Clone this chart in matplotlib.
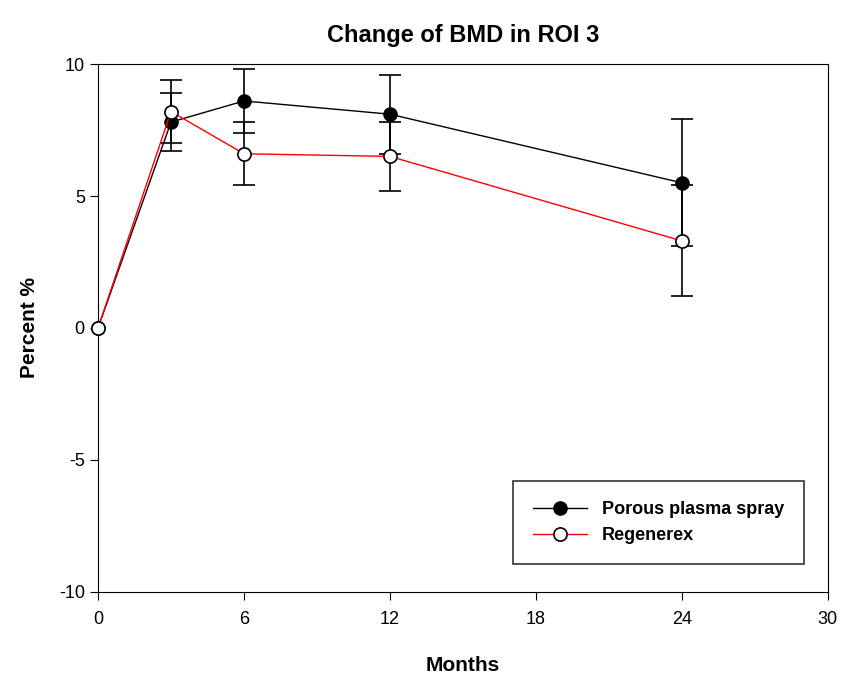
import matplotlib
matplotlib.use("Agg")
import matplotlib.pyplot as plt

plt.rcParams['font.family'] = ['Liberation Sans', 'DejaVu Sans']
plt.rcParams['axes.unicode_minus'] = False

months = [0, 3, 6, 12, 24]
porous = [0, 7.8, 8.6, 8.1, 5.5]
porous_err = [float('nan'), 1.1, 1.2, 1.5, 2.4]
regen = [0, 8.2, 6.6, 6.5, 3.3]
regen_err = [float('nan'), 1.2, 1.2, 1.3, 2.1]

fig = plt.figure(figsize=(8.56, 6.76), dpi=100)
ax = fig.add_axes([0.1145, 0.1243, 0.8525, 0.7810])

l1 = ax.errorbar(months, porous, yerr=porous_err, color='black', ecolor='black',
                 elinewidth=1.2, capsize=8, capthick=1.2, lw=1, marker='o', ms=9.5,
                 mfc='black', mec='black', label='Porous plasma spray', zorder=3)
l2 = ax.errorbar(months, regen, yerr=regen_err, color='red', ecolor='black',
                 elinewidth=1.2, capsize=8, capthick=1.2, lw=1, marker='o', ms=9.5,
                 mfc='white', mec='black', mew=1.2, label='Regenerex', zorder=4)
for c in (l1, l2):
    c[0].set_clip_on(False)

ax.set_xlim(0, 30)
ax.set_ylim(-10, 10)
ax.set_xticks([0, 6, 12, 18, 24, 30])
ax.set_yticks([-10, -5, 0, 5, 10])
ax.tick_params(direction='out', length=6, labelsize=13)
ax.tick_params(axis='x', pad=8)
ax.set_xlabel('Months', fontsize=15, fontweight='bold', labelpad=20)
ax.set_ylabel('Percent %', fontsize=15, fontweight='bold', labelpad=14)
ax.set_title('Change of BMD in ROI 3', fontsize=17, fontweight='bold', pad=16)

handles, labels = ax.get_legend_handles_labels()
handles = [h[0] for h in handles]
leg = ax.legend(handles, labels, loc='lower right', bbox_to_anchor=(0.967, 0.053),
                frameon=True, fancybox=False, edgecolor='black',
                prop={'weight': 'bold', 'size': 13}, borderpad=1.1,
                handlelength=3, labelspacing=0.5, borderaxespad=0)
leg.get_frame().set_linewidth(1.2)

fig.savefig('out.png', dpi=100)
